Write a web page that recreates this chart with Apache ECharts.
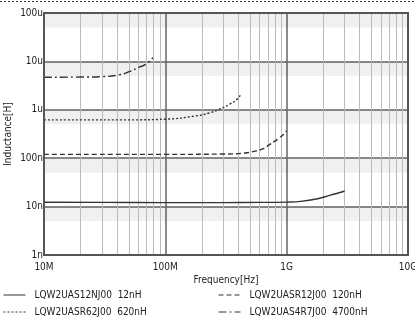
<!DOCTYPE html>
<html>
<head>
<meta charset="utf-8">
<script src="https://cdn.jsdelivr.net/npm/echarts@6/dist/echarts.min.js"></script>
<style>html,body{margin:0;padding:0;background:#fff;}#c{width:415px;height:320px;}</style>
</head>
<body>
<div id="c"></div>
<script>
// ---- data (frequency in Hz, inductance in H) ----
var seriesNames = ['LQW2UAS12NJ00  12nH', 'LQW2UASR12J00  120nH', 'LQW2UASR62J00  620nH', 'LQW2UAS4R7J00  4700nH'];

var f12n = [1e7, 3e7, 1e8, 3e8, 6e8, 1e9, 1.3e9, 1.8e9, 2.3e9, 2.7e9, 3e9];
var L12n = [12.3e-9, 12.2e-9, 12.1e-9, 12.1e-9, 12.2e-9, 12.4e-9, 12.8e-9, 14.5e-9, 17.3e-9, 19.3e-9, 21e-9];

var f120n = [1e7, 1e8, 3e8, 4.5e8, 5.5e8, 6.5e8, 7.2e8, 8e8, 8.7e8, 9.4e8, 1e9];
var L120n = [120e-9, 120e-9, 122e-9, 128e-9, 140e-9, 160e-9, 190e-9, 225e-9, 262e-9, 310e-9, 370e-9];

var f620n = [1e7, 5e7, 1e8, 1.8e8, 2.3e8, 2.8e8, 3.4e8, 3.9e8, 4.2e8];
var L620n = [0.62e-6, 0.62e-6, 0.64e-6, 0.75e-6, 0.86e-6, 1.03e-6, 1.31e-6, 1.65e-6, 2.1e-6];

var f4700n = [1e7, 2e7, 3e7, 4.2e7, 5.1e7, 6.1e7, 7e7, 7.9e7];
var L4700n = [4.7e-6, 4.75e-6, 4.85e-6, 5.3e-6, 6.2e-6, 7.6e-6, 8.9e-6, 12e-6];

var xTickLabels = {7: '10M', 8: '100M', 9: '1G', 10: '10G'};
var yTickLabels = {'-9': '1n', '-8': '10n', '-7': '100n', '-6': '1u', '-5': '10u', '-4': '100u'};

var minorMultipliers = [2, 3, 4, 5, 6, 7, 8, 9];
var xDecades = [7, 8, 9];
var yDecades = [-9, -8, -7, -6, -5];

function pairs(fx, ly) { return fx.map(function (v, i) { return [v, ly[i]]; }); }

var minorLines = [];
xDecades.forEach(function (d) { minorMultipliers.forEach(function (m) { minorLines.push({xAxis: m * Math.pow(10, d)}); }); });
yDecades.forEach(function (d) { minorMultipliers.forEach(function (m) { minorLines.push({yAxis: m * Math.pow(10, d)}); }); });
var bands = yDecades.map(function (d) { return [{yAxis: 5 * Math.pow(10, d)}, {yAxis: Math.pow(10, d + 1)}]; });

var FONT = 'DejaVu Sans Condensed';
var lineColor = '#333';

function legendAt(name, left, top) {
  return {left: left, top: top, padding: 0, orient: 'horizontal', itemWidth: 22, itemHeight: 8, itemGap: 5,
    data: [name], selectedMode: false,
    itemStyle: {opacity: 0},
    lineStyle: {width: 1},
    textStyle: {fontFamily: FONT, fontSize: 10, color: '#222', padding: [0, 0, 0, 4]}};
}

var chart = echarts.init(document.getElementById('c'), null, {renderer: 'canvas'});
chart.setOption({
  animation: false,
  backgroundColor: '#fff',
  grid: {left: 44, right: 7, top: 13, bottom: 65, containLabel: false, outerBoundsMode: 'none'},
  xAxis: {
    type: 'log', logBase: 10, min: 1e7, max: 1e10,
    name: 'Frequency[Hz]', nameLocation: 'middle', nameGap: 20, nameMoveOverlap: false,
    nameTextStyle: {fontFamily: FONT, fontSize: 10, color: '#222'},
    axisLine: {show: false}, axisTick: {show: false},
    axisLabel: {fontFamily: FONT, fontSize: 10, color: '#222', margin: 7,
      formatter: function (v) { return xTickLabels[Math.round(Math.log10(v))] || ''; }},
    splitLine: {show: true, lineStyle: {color: '#666', width: 1.5}}
  },
  yAxis: {
    type: 'log', logBase: 10, min: 1e-9, max: 1e-4,
    name: 'Inductance[H]', nameLocation: 'middle', nameGap: 31, nameMoveOverlap: false,
    nameTextStyle: {fontFamily: FONT, fontSize: 10, color: '#222'},
    axisLine: {show: false}, axisTick: {show: false},
    axisLabel: {fontFamily: FONT, fontSize: 10, color: '#222', margin: 1,
      formatter: function (v) { return yTickLabels[String(Math.round(Math.log10(v)))] || ''; }},
    splitLine: {show: true, lineStyle: {color: '#666', width: 1.5}}
  },
  legend: [
    legendAt(seriesNames[0], 3, 290),
    legendAt(seriesNames[2], 3, 307),
    legendAt(seriesNames[1], 218, 290),
    legendAt(seriesNames[3], 218, 307)
  ],
  graphic: [
    {type: 'line', shape: {x1: 0, y1: 1.5, x2: 415, y2: 1.5}, style: {stroke: '#333', lineWidth: 1, lineDash: [2, 2]}},
    {type: 'rect', shape: {x: 44, y: 13, width: 364, height: 242}, style: {fill: null, stroke: '#555', lineWidth: 2}, z: 100}
  ],
  series: [
    {name: '_grid', type: 'line', data: [], silent: true, z: 1,
      markLine: {silent: true, symbol: 'none', label: {show: false}, animation: false,
        lineStyle: {color: '#bbb', width: 1, type: 'solid'}, data: minorLines},
      markArea: {silent: true, itemStyle: {color: 'rgba(0,0,0,0.06)'}, data: bands}},
    {name: seriesNames[0], type: 'line', data: pairs(f12n, L12n), smooth: true, symbol: 'none', z: 5,
      lineStyle: {color: lineColor, width: 1.4, type: 'solid'}, itemStyle: {color: lineColor}},
    {name: seriesNames[1], type: 'line', data: pairs(f120n, L120n), smooth: true, symbol: 'none', z: 5,
      lineStyle: {color: lineColor, width: 1.4, type: [5, 3]}, itemStyle: {color: lineColor}},
    {name: seriesNames[2], type: 'line', data: pairs(f620n, L620n), smooth: true, symbol: 'none', z: 5,
      lineStyle: {color: lineColor, width: 1.4, type: [2, 2]}, itemStyle: {color: lineColor}},
    {name: seriesNames[3], type: 'line', data: pairs(f4700n, L4700n), smooth: true, symbol: 'none', z: 5,
      lineStyle: {color: lineColor, width: 1.4, type: [8, 3, 2, 3]}, itemStyle: {color: lineColor}}
  ]
});
</script>
</body>
</html>
